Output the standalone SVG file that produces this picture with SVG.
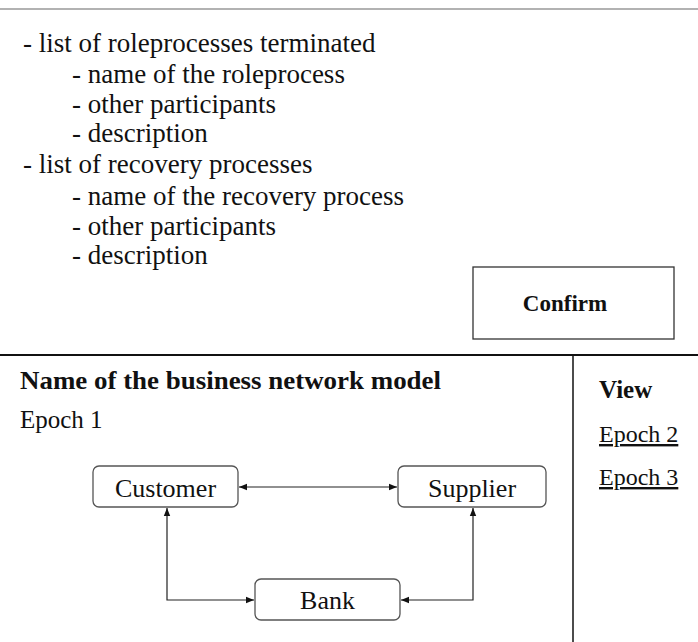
<svg xmlns="http://www.w3.org/2000/svg" width="698" height="642" viewBox="0 0 698 642">
<defs>
<style>
text{font-family:"Liberation Serif","Times New Roman",serif;fill:#111}
.t{font-size:27px}
.b{font-weight:bold}
.node rect{fill:#fff;stroke:#555;stroke-width:1.3}
.node text{font-size:26px;text-anchor:middle}
.conn{fill:none;stroke:#222;stroke-width:1.2}
.link{font-size:24px;text-decoration:underline}
</style>
<marker id="ah" viewBox="0 0 10 10" refX="10" refY="5" markerWidth="8" markerHeight="8" markerUnits="userSpaceOnUse" orient="auto-start-reverse">
<path d="M0,1 L10,5 L0,9 Z" fill="#111"/>
</marker>
</defs>
<rect width="698" height="642" fill="#fff"/>
<line x1="0" y1="9" x2="698" y2="9" stroke="#999" stroke-width="1.5"/>
<g id="details">
<text class="t" x="23" y="52">- list of roleprocesses terminated</text>
<text class="t" x="72" y="83">- name of the roleprocess</text>
<text class="t" x="72" y="113">- other participants</text>
<text class="t" x="72" y="142">- description</text>
<text class="t" x="23" y="173">- list of recovery processes</text>
<text class="t" x="72" y="205">- name of the recovery process</text>
<text class="t" x="72" y="235">- other participants</text>
<text class="t" x="72" y="264">- description</text>
</g>
<g id="confirm">
<rect x="473" y="267" width="201" height="72" fill="#fff" stroke="#333" stroke-width="1.3"/>
<text class="b" x="565" y="311" font-size="23" text-anchor="middle">Confirm</text>
</g>
<line x1="0" y1="355" x2="698" y2="355" stroke="#111" stroke-width="2"/>
<line x1="573" y1="356" x2="573" y2="642" stroke="#111" stroke-width="1.5"/>
<g id="title">
<text class="b" x="20" y="389" font-size="26" textLength="421" lengthAdjust="spacingAndGlyphs">Name of the business network model</text>
<text x="20" y="428" font-size="25">Epoch 1</text>
</g>
<g id="view">
<text class="b" x="599" y="398" font-size="25">View</text>
<text class="link" x="599" y="442">Epoch 2</text>
<text class="link" x="599" y="485">Epoch 3</text>
</g>
<g id="connectors">
<line class="conn" x1="239" y1="487" x2="397" y2="487" marker-start="url(#ah)" marker-end="url(#ah)"/>
<polyline class="conn" points="167,508 167,600 254,600" marker-start="url(#ah)" marker-end="url(#ah)"/>
<polyline class="conn" points="473,508 473,600 401,600" marker-start="url(#ah)" marker-end="url(#ah)"/>
</g>
<g id="customer" class="node">
<rect x="93" y="466" width="145" height="41" rx="6"/>
<text x="165.5" y="497">Customer</text>
</g>
<g id="supplier" class="node">
<rect x="398" y="466" width="148" height="41" rx="6"/>
<text x="472" y="497">Supplier</text>
</g>
<g id="bank" class="node">
<rect x="255" y="579" width="145" height="41" rx="6"/>
<text x="327.5" y="609">Bank</text>
</g>
</svg>
